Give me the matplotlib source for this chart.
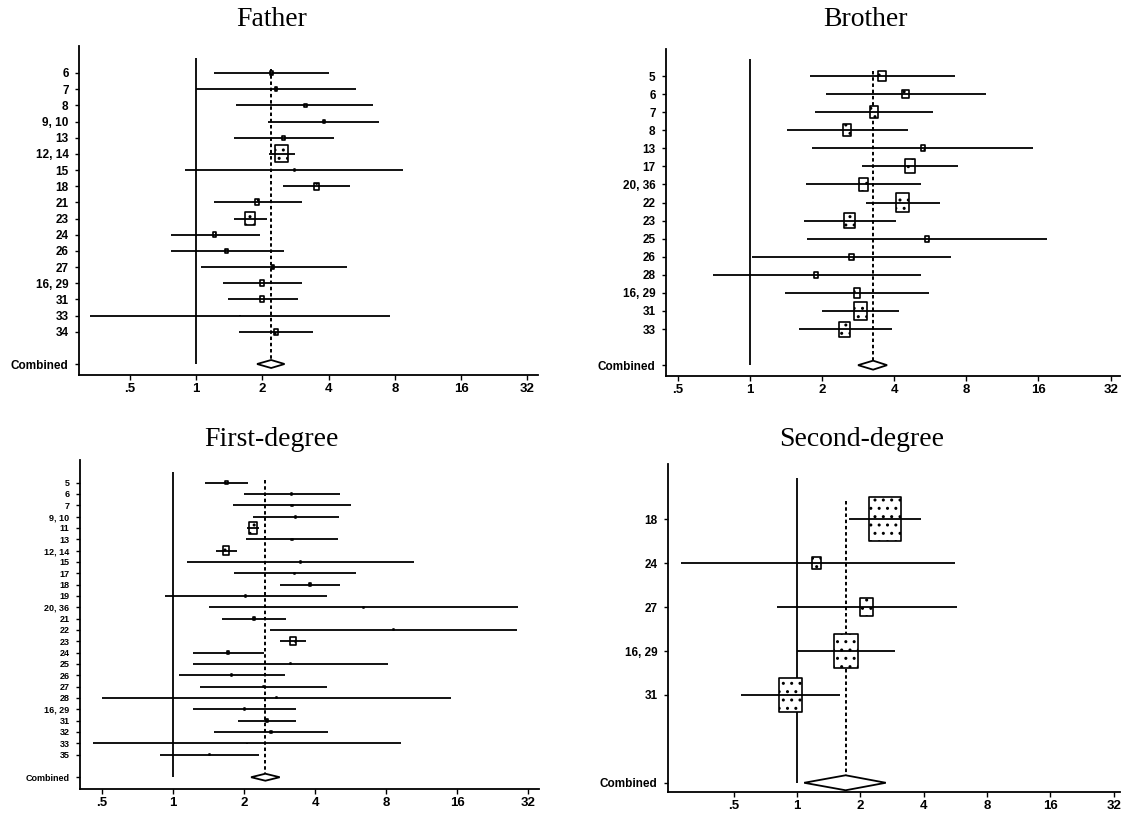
import numpy as np
import matplotlib
matplotlib.use("Agg")
import matplotlib.pyplot as plt
from matplotlib.path import Path
from matplotlib.patches import Polygon

# ---- data (odds ratios) ----
father_labels = ['6', '7', '8', '9, 10', '13', '12, 14', '15', '18', '21', '23',
                 '24', '26', '27', '16, 29', '31', '33', '34']
father_or = [2.19, 2.3, 3.13, 3.81, 2.5, 2.44, 2.8, 3.51, 1.89, 1.75,
             1.21, 1.37, 2.23, 1.99, 1.99, 1.58, 2.3]
father_lo = [1.21, 1.0, 1.52, 2.12, 1.48, 2.15, 0.89, 2.48, 1.21, 1.48,
             0.77, 0.77, 1.05, 1.33, 1.39, 0.33, 1.56]
father_hi = [4.0, 5.33, 6.37, 6.76, 4.22, 2.82, 8.75, 5.0, 3.02, 2.1,
             1.94, 2.5, 4.82, 3.02, 2.89, 7.6, 3.39]
father_wt = [0.6, 0.5, 0.5, 0.6, 0.7, 11.6, 0.15, 2.0, 1.4, 7.8,
             1.0, 0.6, 0.5, 1.4, 1.4, 0.05, 1.4]
father_pool = [2.19, 1.89, 2.52]

brother_labels = ['5', '6', '7', '8', '13', '17', '20, 36', '22', '23', '25',
                  '26', '28', '16, 29', '31', '33']
brother_or = [3.57, 4.46, 3.29, 2.55, 5.27, 4.68, 2.98, 4.34, 2.6, 5.5,
              2.66, 1.89, 2.8, 2.9, 2.49]
brother_lo = [1.79, 2.08, 1.87, 1.43, 1.81, 2.95, 1.72, 3.06, 1.68, 1.74,
              1.02, 0.70, 1.4, 2.0, 1.6]
brother_hi = [7.15, 9.63, 5.83, 4.56, 15.2, 7.4, 5.2, 6.24, 4.06, 17.3,
              6.88, 5.2, 5.6, 4.18, 3.92]
brother_wt = [4.6, 3.0, 5.5, 5.5, 1.44, 7.8, 5.8, 13.4, 9.4, 1.44,
              1.44, 1.44, 3.5, 13.4, 9.0]
brother_pool = [3.27, 2.83, 3.74]

first_labels = ['5', '6', '7', '9, 10', '11', '13', '12, 14', '15', '17', '18',
                '19', '20, 36', '21', '22', '23', '24', '25', '26', '27', '28',
                '16, 29', '31', '32', '33', '35']
first_or = [1.68, 3.18, 3.19, 3.31, 2.18, 3.19, 1.68, 3.47, 3.28, 3.81,
            2.03, 6.4, 2.2, 8.6, 3.22, 1.71, 3.14, 1.77, 2.41, 2.75,
            2.0, 2.5, 2.6, 2.06, 1.43]
first_lo = [1.36, 1.99, 1.79, 2.18, 2.06, 2.03, 1.52, 1.15, 1.81, 2.85,
            0.92, 1.42, 1.61, 2.57, 2.83, 1.21, 1.21, 1.06, 1.3, 0.5,
            1.22, 1.89, 1.49, 0.46, 0.88]
first_hi = [2.07, 5.09, 5.69, 5.03, 2.32, 5.0, 1.87, 10.5, 5.95, 5.09,
            4.47, 29.0, 3.02, 28.7, 3.66, 2.43, 8.13, 2.97, 4.47, 15.1,
            3.32, 3.32, 4.53, 9.2, 2.32]
first_wt = [0.5, 0.1, 0.1, 0.15, 5.8, 0.1, 3.2, 0.05, 0.1, 0.4,
            0.05, 0.05, 0.2, 0.05, 2.4, 0.4, 0.05, 0.1, 0.1, 0.03,
            0.1, 0.4, 0.15, 0.03, 0.1]
first_pool = [2.46, 2.14, 2.83]

second_labels = ['18', '24', '27', '16, 29', '31']
second_or = [2.62, 1.24, 2.13, 1.7, 0.93]
second_lo = [1.76, 0.28, 0.8, 1.0, 0.54]
second_hi = [3.9, 5.63, 5.74, 2.92, 1.6]
second_wt = [77, 5.8, 13, 44, 44]
second_pool = [1.70, 1.08, 2.64]

xticks = [0.5, 1, 2, 4, 8, 16, 32]
xtick_labels = ['.5', '1', '2', '4', '8', '16', '32']

plt.rcParams['font.family'] = 'Liberation Sans'

W, H = 1124, 814
fig = plt.figure(figsize=(W / 100, H / 100), dpi=100)

# tall rectangle used for the weight boxes
BOX = Path([(-0.36, -0.5), (0.36, -0.5), (0.36, 0.5), (-0.36, 0.5), (-0.36, -0.5)],
           [Path.MOVETO, Path.LINETO, Path.LINETO, Path.LINETO, Path.CLOSEPOLY])


def forest(rect, labels, est, lo, hi, wt, pool, xl, pad, lab_size, dia_px, dot_gap):
    l, t, r, b = rect
    ax = fig.add_axes([l / W, 1 - b / H, (r - l) / W, (b - t) / H])
    n = len(labels)
    rows = np.arange(1, n + 1)
    cy = n + 2
    ax.set_xscale('log', base=2)
    ax.set_xlim(2.0 ** xl[0], 2.0 ** xl[1])
    y_top, y_bot = 1 - pad[0], cy + pad[1]
    ax.set_ylim(y_bot, y_top)
    dh = dia_px / ((b - t) / (y_bot - y_top))

    # null line and pooled estimate line
    ax.vlines(1, 1 - 0.95, cy, color='black', lw=1.3, zorder=1)
    ax.vlines(pool[0], 1 - dot_gap, cy - dh, color='black', lw=1.4,
              linestyles=(0, (1.8, 1.4)), zorder=1)

    # weight boxes, then CI lines through them
    ax.scatter(est, rows, s=12.96 * np.asarray(wt), marker=BOX, facecolor='white',
               edgecolor='black', linewidths=1.2, hatch='..', zorder=2)
    ax.hlines(rows, lo, hi, color='black', lw=1.3, zorder=3)

    dia = Polygon([(pool[1], cy), (pool[0], cy - dh), (pool[2], cy), (pool[0], cy + dh)],
                  closed=True, facecolor='white', edgecolor='black', lw=1.3, zorder=3)
    ax.add_patch(dia)

    ax.set_yticks(list(rows) + [cy])
    ax.set_yticklabels(labels + ['Combined'], fontweight='bold', fontsize=lab_size)
    ax.set_xticks(xticks)
    ax.set_xticklabels(xtick_labels, fontweight='bold', fontsize=9.5)
    ax.minorticks_off()
    ax.tick_params(axis='y', length=3, width=1, pad=4.5)
    ax.tick_params(axis='x', length=3.5, width=1, pad=2)
    for side in ['top', 'right']:
        ax.spines[side].set_visible(False)
    for side in ['left', 'bottom']:
        ax.spines[side].set_linewidth(1.3)
    return ax


forest((79, 46, 538, 375), father_labels, father_or, father_lo, father_hi, father_wt,
       father_pool, (-1.77, 5.16), (1.67, 0.68), 8.5, 4, 0.25)
forest((666, 49, 1120, 376), brother_labels, brother_or, brother_lo, brother_hi, brother_wt,
       brother_pool, (-1.16, 5.13), (1.5, 0.6), 8.5, 4.5, 0.3)
forest((80, 460, 539, 789), first_labels, first_or, first_lo, first_hi, first_wt,
       first_pool, (-1.31, 5.15), (2.0, 1.04), 6.5, 3.5, 0.25)
forest((668, 464, 1120, 792), second_labels, second_or, second_lo, second_hi, second_wt,
       second_pool, (-2.04, 5.1), (1.26, 0.21), 8.5, 7.5, 0.42)

for txt, x, y in [('Father', 272, 19), ('Brother', 865, 19),
                  ('First-degree', 271, 439), ('Second-degree', 862, 439)]:
    fig.text(x / W, 1 - y / H, txt, ha='center', va='center',
             family='Liberation Serif', fontsize=20)

fig.savefig('out.png', dpi=100)
